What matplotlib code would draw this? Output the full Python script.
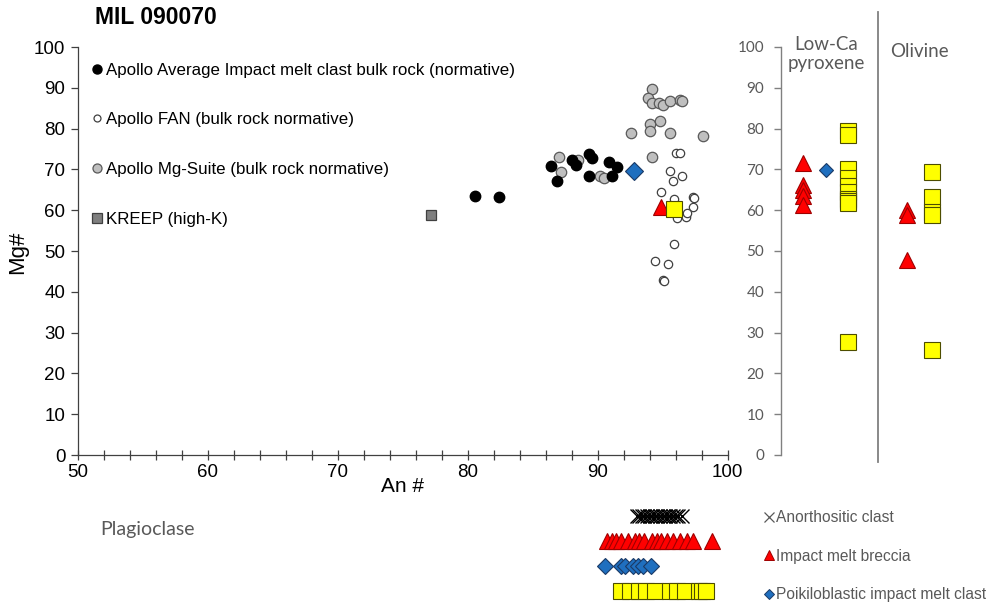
import matplotlib
matplotlib.use("Agg")
import matplotlib.pyplot as plt
from matplotlib.lines import Line2D

plt.rcParams['font.family'] = ['Liberation Sans', 'DejaVu Sans']

# ---------------- data (An#, Mg#) ----------------
imc_an = [86.4, 86.9, 88.0, 88.3, 89.3, 89.6, 89.3, 90.9, 91.5, 91.1, 80.6, 82.4]
imc_mg = [70.8, 67.1, 72.3, 71.2, 73.7, 72.7, 68.5, 71.9, 70.6, 68.4, 63.6, 63.3]

fan_an = [96.0, 96.3, 95.6, 96.5, 95.8, 94.9, 97.3, 97.4, 97.3, 96.8, 96.1, 95.9, 96.9, 95.9, 94.4, 95.4, 95.0, 95.1]
fan_mg = [74.0, 74.0, 69.7, 68.5, 67.1, 64.5, 63.3, 62.9, 60.8, 58.3, 58.2, 62.7, 59.4, 51.7, 47.6, 46.9, 42.8, 42.6]

mgs_an = [94.2, 93.9, 94.2, 94.7, 95.0, 95.6, 96.3, 96.5, 94.0, 94.8, 94.0, 92.6, 95.6, 98.1,
          94.2, 87.0, 88.5, 87.2, 90.2, 90.5]
mgs_mg = [89.8, 87.5, 86.3, 86.3, 85.9, 86.7, 86.9, 86.7, 81.1, 81.8, 79.3, 78.9, 78.9, 78.1,
          73.0, 73.0, 72.2, 69.4, 68.5, 67.9]

kreep_an = [77.2]
kreep_mg = [58.8]

# MIL 090070 plagioclase-based bulk points
poik_an, poik_mg = [92.8], [69.6]
imb_an, imb_mg = [94.9], [60.8]
sq_an, sq_mg = [95.9], [60.4]

# Mafic minerals (Mg#)
pyx_imb = [71.5, 66.2, 65.0, 63.5, 61.2]
pyx_poik = [69.8]
pyx_sq = [79.3, 78.5, 70.0, 68.0, 66.0, 64.5, 62.8, 62.3, 61.8, 27.8]
ol_imb = [60.0, 58.8, 47.8]
ol_sq = [69.3, 63.2, 59.5, 58.8, 25.8]

# Plagioclase An# by lithology
plag_anor = [93.0, 93.2, 93.4, 93.6, 93.8, 94.0, 94.2, 94.4, 94.6, 94.8, 95.0, 95.2,
             95.4, 95.6, 95.8, 96.0, 96.2, 96.5]
plag_imb = [90.7, 91.1, 91.4, 91.8, 92.3, 92.9, 93.2, 93.6, 94.2, 94.6, 94.9, 95.3,
            95.8, 96.3, 96.9, 97.3, 98.8]
plag_poik = [90.6, 91.8, 92.1, 92.7, 93.1, 93.5, 94.1]
plag_sq = [91.8, 92.5, 93.2, 93.7, 94.4, 95.6, 96.1, 96.7, 97.8, 98.0, 98.3]

legend_labels = ["Apollo Average Impact melt clast bulk rock (normative)",
                 "Apollo FAN (bulk rock normative)",
                 "Apollo Mg-Suite (bulk rock normative)",
                 "KREEP (high-K)"]
lith_labels = ["Anorthositic clast", "Impact melt breccia", "Poikiloblastic impact melt clast"]

# ---------------- styles ----------------
RED, RED_E = '#FF0000', '#9E0000'
YEL, YEL_E = '#FFFF00', '#4D4D00'
BLU, BLU_E = '#1F6FBF', '#1B3A66'
GRAYTXT = '#595959'

W, H = 991, 609
fig = plt.figure(figsize=(W / 100, H / 100), dpi=100)


def rect(x0, y0, x1, y1):
    return [x0 / W, 1 - y1 / H, (x1 - x0) / W, (y1 - y0) / H]


# ---------------- main panel ----------------
ax = fig.add_axes(rect(77.8, 47, 727.6, 455))
ax.set_xlim(50, 100)
ax.set_ylim(0, 100)
for s in ['top', 'right']:
    ax.spines[s].set_visible(False)
for s in ['left', 'bottom']:
    ax.spines[s].set_color('#404040')
    ax.spines[s].set_linewidth(0.9)
ax.set_xticks(range(50, 101, 10))
ax.set_xticks(range(50, 101, 2), minor=True)
ax.set_yticks(range(0, 101, 10))
ax.tick_params(axis='x', which='both', direction='inout', length=7, width=0.9,
               color='#404040', labelsize=13.5, pad=3)
ax.tick_params(axis='y', direction='out', length=5, width=0.9, color='#404040',
               labelsize=13.5, pad=4)

ax.plot(fan_an, fan_mg, 'o', ms=6, mfc='white', mec='#404040', mew=0.9, ls='none')
ax.plot(mgs_an, mgs_mg, 'o', ms=7.5, mfc='#BFBFBF', mec='#595959', mew=0.9, ls='none')
ax.plot(imc_an, imc_mg, 'o', ms=7.5, mfc='black', mec='black', ls='none')
ax.plot(kreep_an, kreep_mg, 's', ms=7, mfc='#7F7F7F', mec='#404040', mew=0.9, ls='none')
ax.plot(poik_an, poik_mg, 'D', ms=9.5, mfc=BLU, mec=BLU_E, mew=0.8, ls='none')
ax.plot(imb_an, imb_mg, '^', ms=11, mfc=RED, mec=RED_E, mew=0.8, ls='none')
ax.plot(sq_an, sq_mg, 's', ms=12, mfc=YEL, mec=YEL_E, mew=0.8, ls='none')

handles = [
    Line2D([], [], marker='o', ls='none', ms=6.5, mfc='black', mec='black'),
    Line2D([], [], marker='o', ls='none', ms=5, mfc='white', mec='#404040', mew=0.9),
    Line2D([], [], marker='o', ls='none', ms=6.5, mfc='#BFBFBF', mec='#595959', mew=0.9),
    Line2D([], [], marker='s', ls='none', ms=6.5, mfc='#7F7F7F', mec='#404040', mew=0.9),
]
ax.legend(handles, legend_labels, loc='upper left', bbox_to_anchor=(0.022, 0.962),
          frameon=False, fontsize=12.2, handlelength=0.55, handletextpad=0.3,
          labelspacing=2.06, borderpad=0, borderaxespad=0)

fig.text(402.7 / W, 1 - 487 / H, "An #", fontsize=15, ha='center', va='center')
fig.text(18 / W, 1 - 252 / H, "Mg#", fontsize=16, ha='center', va='center', rotation=90)
fig.text(95 / W, 1 - 18 / H, "MIL 090070", fontsize=16.5, fontweight='bold', ha='left', va='center')

# ---------------- right panel (mafic minerals) ----------------
axr = fig.add_axes(rect(781, 47, 991, 455))
axr.set_xlim(0, 10)
axr.set_ylim(0, 100)
for s in ['top', 'right', 'bottom']:
    axr.spines[s].set_visible(False)
axr.spines['left'].set_color('#808080')
axr.spines['left'].set_linewidth(1.0)
axr.set_xticks([])
axr.set_yticks(range(0, 101, 10))
axr.tick_params(axis='y', direction='out', length=5, width=1.0, color='#808080',
                labelcolor=GRAYTXT, pad=7)
for lab in axr.get_yticklabels():
    lab.set_fontfamily(['Lato', 'DejaVu Sans'])
    lab.set_fontsize(11)

x_pyx_imb, x_pyx_poik, x_pyx_sq = 1.07, 2.15, 3.18
x_div = 4.6
x_ol_imb, x_ol_sq = 6.0, 7.2

axr.plot([x_pyx_imb] * len(pyx_imb), pyx_imb, '^', ms=11, mfc=RED, mec=RED_E, mew=0.8, ls='none')
axr.plot([x_pyx_poik] * len(pyx_poik), pyx_poik, 'D', ms=7.5, mfc=BLU, mec=BLU_E, mew=0.8, ls='none')
axr.plot([x_pyx_sq] * len(pyx_sq), pyx_sq, 's', ms=11.5, mfc=YEL, mec=YEL_E, mew=0.8, ls='none')
axr.plot([x_ol_imb] * len(ol_imb), ol_imb, '^', ms=11, mfc=RED, mec=RED_E, mew=0.8, ls='none')
axr.plot([x_ol_sq] * len(ol_sq), ol_sq, 's', ms=11.5, mfc=YEL, mec=YEL_E, mew=0.8, ls='none')
axr.plot([x_div, x_div], [-1.7, 108.6], color='#808080', lw=1.3, clip_on=False)

axr.text(2.17, 98.3, "Low-Ca\npyroxene", fontsize=13.5, color=GRAYTXT, ha='center', va='center',
         family=['Lato', 'DejaVu Sans'], linespacing=1.15)
axr.text(6.6, 98.9, "Olivine", fontsize=13.5, color=GRAYTXT, ha='center', va='center',
         family=['Lato', 'DejaVu Sans'])

# ---------------- bottom strip (plagioclase An#) ----------------
axb = fig.add_axes(rect(77.8, 500, 727.6, 605))
axb.set_xlim(50, 100)
axb.set_ylim(3.56, -0.64)
axb.axis('off')
axb.plot(plag_anor, [0] * len(plag_anor), 'x', ms=10, mec='black', mew=1.0, ls='none')
axb.plot(plag_imb, [1] * len(plag_imb), '^', ms=11, mfc=RED, mec=RED_E, mew=0.8, ls='none')
axb.plot(plag_poik, [2] * len(plag_poik), 'D', ms=7.8, mfc=BLU, mec=BLU_E, mew=0.8, ls='none')
axb.plot(plag_sq, [3] * len(plag_sq), 's', ms=11, mfc=YEL, mec=YEL_E, mew=0.8, ls='none')

fig.text(100 / W, 1 - 530 / H, "Plagioclase", fontsize=14, color=GRAYTXT, ha='left', va='center',
         family=['Lato', 'DejaVu Sans'])

lh = [
    Line2D([], [], marker='x', ls='none', ms=7, mec=GRAYTXT, mew=0.9),
    Line2D([], [], marker='^', ls='none', ms=7, mfc=RED, mec=RED_E, mew=0.7),
    Line2D([], [], marker='D', ls='none', ms=5, mfc=BLU, mec=BLU_E, mew=0.7),
]
fig.legend(lh, lith_labels, loc='upper left', bbox_to_anchor=(764 / W, 1 - 510 / H),
           frameon=False, fontsize=11.2, handlelength=0.65, handletextpad=0.15,
           labelspacing=1.52, borderpad=0, borderaxespad=0, labelcolor=GRAYTXT)

fig.savefig("out.png", dpi=100)
